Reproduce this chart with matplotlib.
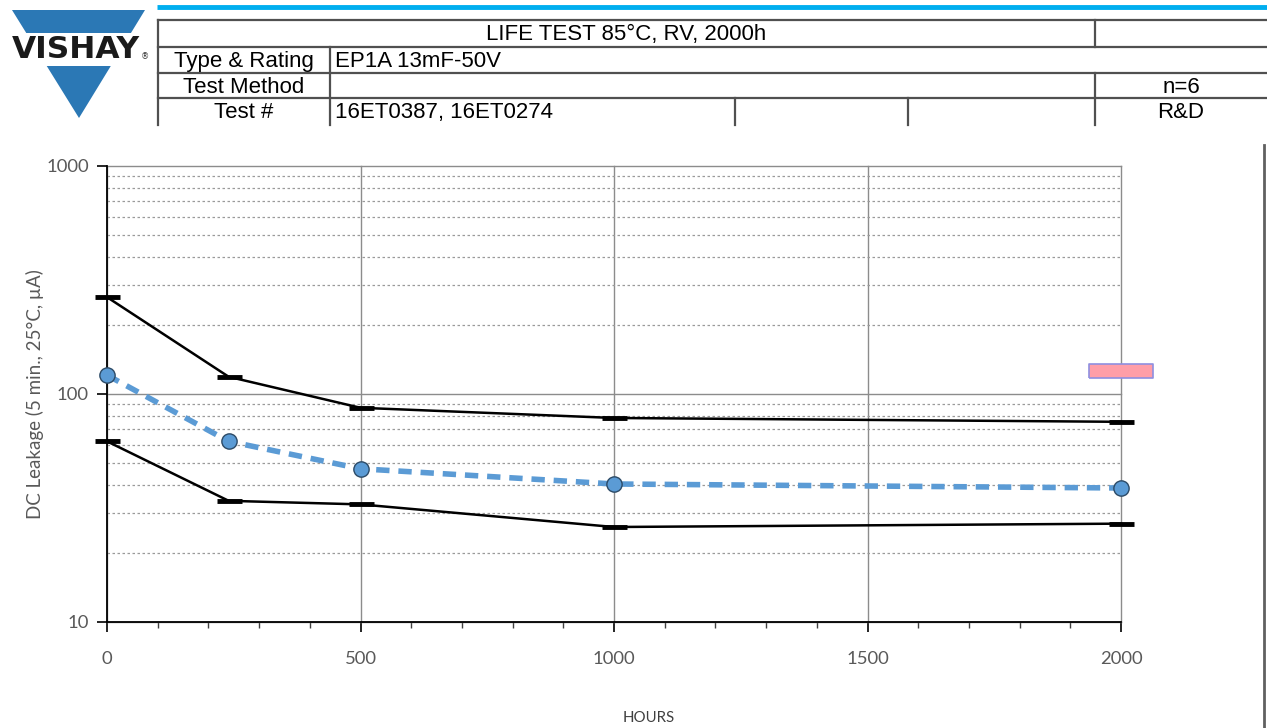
import matplotlib
matplotlib.use("Agg")
import matplotlib.pyplot as plt
from matplotlib.patches import Polygon, Rectangle
from matplotlib.ticker import FixedLocator, NullFormatter

# --- data ---
hours = [0, 240, 500, 1000, 2000]
leak_max = [266, 119, 87, 78.5, 75.5]
leak_mean = [121, 62, 47, 40.3, 38.7]
leak_min = [62, 34, 32.8, 26.1, 27.0]
spec_hours = [2000]
spec_limit = [126]

x_ticks = [0, 500, 1000, 1500, 2000]
y_ticks = [10, 100, 1000]

title = "LIFE TEST 85°C, RV, 2000h"
type_rating = "EP1A 13mF-50V"
test_no = "16ET0387, 16ET0274"
sample_n = "n=6"
lab = "R&D"

W, H = 1267, 728
fig = plt.figure(figsize=(W / 100, H / 100), dpi=100)
fig.patch.set_facecolor("white")

# --- header (logo + info table), drawn in pixel coordinates ---
hdr = fig.add_axes([0, 0, 1, 1])
hdr.set_xlim(0, W)
hdr.set_ylim(H, 0)
hdr.axis("off")

blue = "#2b78b5"
hdr.add_patch(Polygon([(12, 10), (145, 10), (79, 118)], closed=True, color=blue, lw=0))
hdr.add_patch(Rectangle((5, 33), 150, 33, color="white", lw=0))
hdr.text(76, 50, "VISHAY", ha="center", va="center", fontsize=22.5,
         fontweight="bold", family="DejaVu Sans", color="#1a1a1a")
hdr.text(145, 57, "®", ha="center", va="center", fontsize=6, color="#333333")

hdr.plot([157, 1267], [7, 7], color="#00aeef", lw=3.5, solid_capstyle="butt")

tc = "#505050"
lw_t = 1.6
for y in [20, 47, 73, 98]:
    hdr.plot([158, 1267], [y, y], color=tc, lw=lw_t)
hdr.plot([158, 158], [20, 125], color=tc, lw=lw_t)
hdr.plot([330, 330], [47, 125], color=tc, lw=lw_t)
hdr.plot([1095, 1095], [20, 47], color=tc, lw=lw_t)
hdr.plot([1095, 1095], [73, 125], color=tc, lw=lw_t)
hdr.plot([735, 735], [98, 125], color=tc, lw=lw_t)
hdr.plot([908, 908], [98, 125], color=tc, lw=lw_t)

tf = dict(family="Liberation Sans", fontsize=16, color="black", va="baseline")
hdr.text(626, 40, title, ha="center", **tf)
hdr.text(244, 67, "Type & Rating", ha="center", **tf)
hdr.text(335, 67, type_rating, ha="left", **tf)
hdr.text(244, 93, "Test Method", ha="center", **tf)
hdr.text(1181, 93, sample_n, ha="center", **tf)
hdr.text(244, 118, "Test #", ha="center", **tf)
hdr.text(335, 118, test_no, ha="left", **tf)
hdr.text(1181, 118, lab, ha="center", **tf)

# right page border
hdr.plot([1264, 1264], [145, 728], color="#606060", lw=2)

# --- chart ---
ax = fig.add_axes([107 / W, 1 - 622 / H, (1121 - 107) / W, (622 - 166) / H])
ax.set_yscale("log")
ax.set_xlim(0, 2000)
ax.set_ylim(10, 1000)

ax.xaxis.set_major_locator(FixedLocator(x_ticks))
ax.xaxis.set_minor_locator(FixedLocator(range(0, 2001, 100)))
ax.yaxis.set_major_locator(FixedLocator(y_ticks))
ax.yaxis.set_minor_locator(FixedLocator([v * d for d in (10, 100) for v in range(2, 10)]))
ax.yaxis.set_minor_formatter(NullFormatter())
ax.set_yticklabels([str(v) for v in y_ticks])
ax.set_xticklabels([str(v) for v in x_ticks])

ax.grid(True, which="major", axis="both", color="#8c8c8c", lw=1)
ax.grid(True, which="minor", axis="y", color="#9a9a9a", lw=0.9, ls=(0, (2, 2)))
for gl in ax.get_xgridlines() + ax.get_ygridlines():
    gl.set_clip_on(False)
ax.set_axisbelow(True)

for s in ["top", "right"]:
    ax.spines[s].set_visible(False)
ax.spines["left"].set_color("black")
ax.spines["bottom"].set_color("black")
ax.spines["left"].set_linewidth(1.3)
ax.spines["bottom"].set_linewidth(1.3)

ax.tick_params(axis="both", which="major", direction="out", length=7, width=1.2, color="black")
ax.tick_params(axis="x", which="minor", direction="out", length=4, width=1, color="#404040")
ax.tick_params(axis="y", which="minor", length=0)
ax.tick_params(axis="x", which="major", pad=14)
ax.tick_params(axis="y", which="major", pad=6)
for t in ax.get_xticklabels() + ax.get_yticklabels():
    t.set_fontfamily("Lato")
    t.set_fontsize(13.3)
    t.set_color("#595959")

ax.plot(hours, leak_max, color="black", lw=1.8, marker="_", ms=18, mew=3.5, clip_on=False, zorder=4)
ax.plot(hours, leak_min, color="black", lw=1.8, marker="_", ms=18, mew=3.5, clip_on=False, zorder=4)
ax.plot(hours, leak_mean, color="#5b9bd5", lw=4, ls=(0, (2.4, 1.6)), marker="o", ms=11,
        mfc="#5b9bd5", mec="#2c4a66", mew=1, clip_on=False, zorder=5)

rect = [(-2.4, -0.5), (2.4, -0.5), (2.4, 0.5), (-2.4, 0.5), (-2.4, -0.5)]
ax.plot(spec_hours, spec_limit, ls="none", marker=rect, ms=46, mfc="#ff9ea8",
        mec="#8f8fe0", mew=1.2, clip_on=False, zorder=6)

ax.set_ylabel("DC Leakage (5 min., 25°C, µA)", fontfamily="Lato", fontsize=13.5, color="#595959",
              labelpad=2)
fig.text(649 / W, 1 - 718 / H, "HOURS", ha="center", va="center", family="Lato",
         fontsize=10.8, color="#404040")

fig.savefig("out.png", dpi=100)
